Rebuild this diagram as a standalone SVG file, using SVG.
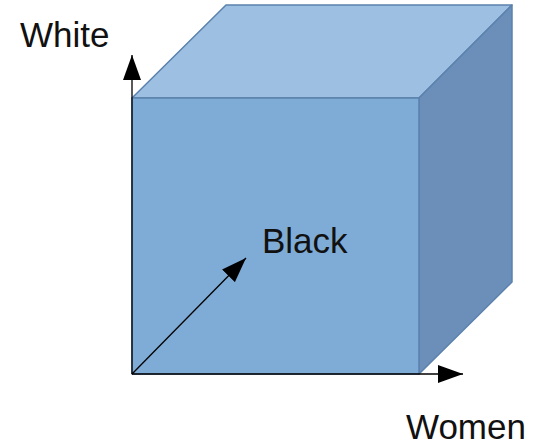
<svg xmlns="http://www.w3.org/2000/svg" width="545" height="447" viewBox="0 0 545 447">
<defs>
<style>
.face{stroke:#5b81ad;stroke-width:1.5;stroke-linejoin:round}
.axis{stroke:#000;stroke-width:1.3;fill:none}
.lbl{font-family:"Liberation Sans",Arial,sans-serif;font-size:35px;fill:#111}
</style>
<marker id="ah" viewBox="0 0 25 18" refX="25" refY="9" markerWidth="25" markerHeight="18" markerUnits="userSpaceOnUse" orient="auto">
<path d="M0,0 L25,9 L0,18 Z" fill="#000"/>
</marker>
</defs>
<rect width="545" height="447" fill="#fff"/>
<g id="cube">
<polygon class="face" points="132,98 226,5 512,5 419,98" fill="#9dbfe2"/>
<polygon class="face" points="419,98 512,5 512,282 419,374" fill="#6b8fb8"/>
<rect class="face" x="132" y="98" width="287" height="276" fill="#7facd6"/>
</g>
<g id="connectors">
<line class="axis" x1="132" y1="374" x2="132" y2="55" marker-end="url(#ah)"/>
<line class="axis" x1="132" y1="374" x2="463" y2="374" marker-end="url(#ah)"/>
<line class="axis" x1="132" y1="374" x2="246" y2="258" marker-end="url(#ah)"/>
</g>
<g id="white"><text class="lbl" x="20" y="47">White</text></g>
<g id="black"><text class="lbl" x="262" y="253">Black</text></g>
<g id="women"><text class="lbl" x="406" y="439">Women</text></g>
</svg>
